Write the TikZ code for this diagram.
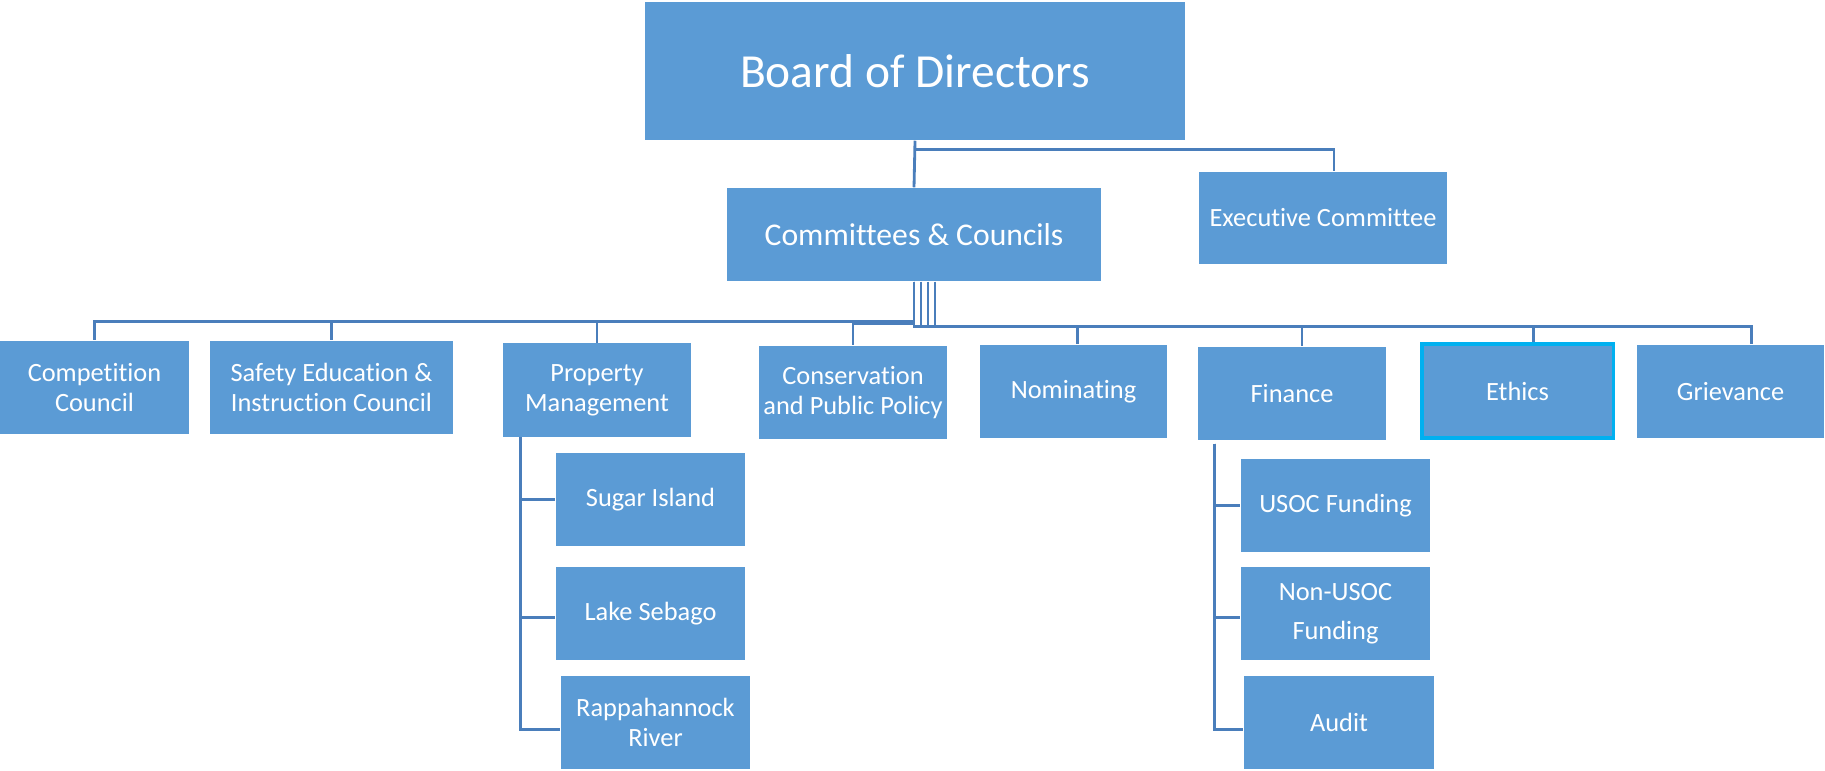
\documentclass[tikz,border=0pt]{standalone}
\usepackage{fontspec}
\setmainfont{Carlito}[Ligatures=NoCommon]
\usetikzlibrary{positioning}
\definecolor{boxblue}{HTML}{5B9BD5}
\definecolor{lineblue}{HTML}{4A7EBB}
\definecolor{ethicsedge}{HTML}{00B0F0}

\begin{document}
\begin{tikzpicture}[
        x=0.01cm, y=-0.01cm,
        every node/.style={rectangle, fill=boxblue, text=white, inner sep=0pt, align=center, minimum width=1.88cm, minimum height=0.93cm, font=\fontsize{7.5}{8.5}\selectfont},
        conn/.style={draw=lineblue, line width=0.8pt}
    ]
        \useasboundingbox (0,0) rectangle (1825,770);

        % top levels
        \node (board) [minimum width=5.4cm, minimum height=1.38cm, font=\fontsize{13.5}{16}\selectfont] at (915,71) {Board of Directors};
        \node (comm) [minimum width=3.74cm, font=\fontsize{9}{11}\selectfont] at (914,234.5) {Committees \& Councils};
        \node (exec) [minimum width=2.48cm, minimum height=0.92cm] at (1323,218) {Executive Committee};

        % committees row
        \node (comp) [minimum width=1.89cm] at (94.5,387.5) {Competition\\Council};
        \node (safety) [minimum width=2.43cm] at (331.5,387.5) {Safety Education \&\\Instruction Council};
        \node (prop) at (597,390) {Property\\Management};
        \node (cons) at (853,392.5) {Conservation\\and Public Policy};
        \node (nom) [minimum width=1.87cm] at (1073.5,391.5) {Nominating};
        \node (fin) at (1292,393.5) {Finance};
        \node (ethics) [draw=ethicsedge, line width=0.9pt, minimum width=1.91cm, minimum height=0.94cm] at (1517.5,391) {Ethics};
        \node (griev) [minimum width=1.87cm] at (1730.5,391.5) {Grievance};

        % sub boxes
        \node (sugar) [minimum width=1.89cm] at (650.5,499.5) {Sugar Island};
        \node (lake) [minimum width=1.89cm] at (650.5,613.5) {Lake Sebago};
        \node (rapp) [minimum width=1.89cm] at (655.5,722.5) {Rappahannock\\River};
        \node (usoc) [minimum width=1.89cm] at (1335.5,505.5) {USOC Funding};
        \node (nonusoc) [minimum width=1.89cm] at (1335.5,613.5) {Non-USOC\\[0.09cm]Funding};
        \node (audit) [minimum width=1.9cm] at (1339,722.5) {Audit};

        % connectors
        \draw [conn] (board.south) -- (comm.north);
        \draw [conn] ([yshift=-0.09cm]board.south) -| ([xshift=0.11cm]exec.north);

        \foreach \kid in {comp, safety, prop}
            \draw [conn] (comm.south) -- ++(0,40) -| (\kid.north);
        \draw [conn] (comm.south) -- ++(0,42) -| (cons.north);
        \draw [conn] ([xshift=0.07cm]comm.south) -- ++(0,45) -| ([xshift=0.04cm]nom.north);
        \draw [conn] ([xshift=0.14cm]comm.south) -- ++(0,45) -| ([xshift=0.1cm]fin.north);
        \draw [conn] ([xshift=0.21cm]comm.south) -- ++(0,45) -| ([xshift=0.16cm]ethics.north);
        \draw [conn] (comm.south) -- ++(0,45) -| ([xshift=0.21cm]griev.north);

        \foreach \sub/\dy in {sugar/0, lake/-0.04, rapp/-0.07}
            \draw [conn] ([xshift=0.18cm]prop.south west) |- ([yshift=\dy cm]\sub.west);
        \foreach \sub/\dy in {usoc/0, nonusoc/-0.04, audit/-0.07}
            \draw [conn] ([xshift=0.17cm,yshift=-0.03cm]fin.south west) |- ([yshift=\dy cm]\sub.west);
    \end{tikzpicture}
\end{document}
